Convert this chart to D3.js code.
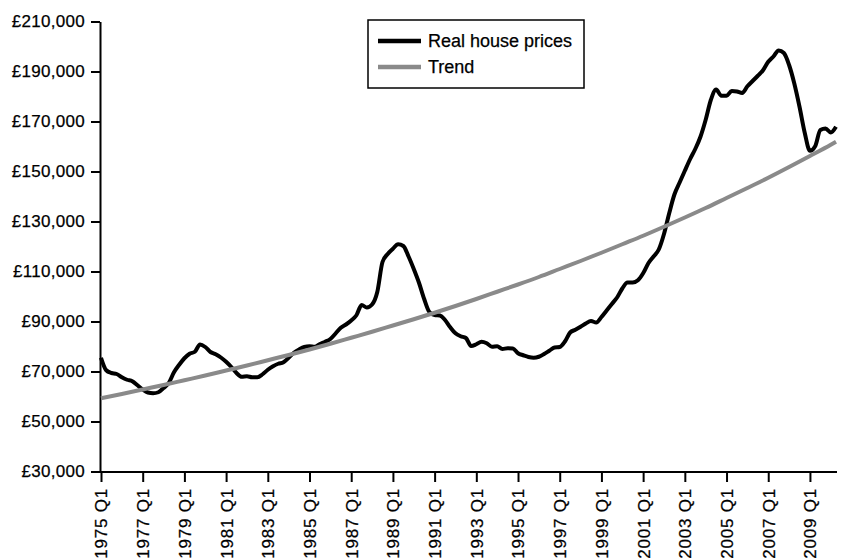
<!DOCTYPE html>
<html>
<head>
<meta charset="utf-8">
<script src="https://cdn.jsdelivr.net/npm/d3@7"></script>
<style>
  body { margin: 0; background: #fff; }
  svg text { font-family: "Liberation Sans", Arial, sans-serif; fill: #000; stroke: #000; stroke-width: 0.25px; }
</style>
</head>
<body>
<svg id="chart" width="848" height="560"></svg>
<script>
// quarters 1975 Q1 .. 2010 Q2
var quarters = [];
for (var yr = 1975; yr <= 2010; yr++)
    for (var q = 1; q <= 4; q++)
        if (!(yr === 2010 && q > 2)) quarters.push(yr + " Q" + q);

// real house prices, one value per quarter
var prices = [
    75500, 70500, 69400, 69000, 67700, 66700, 66100, 64500, 62800, 61600,
    61300, 61700, 63400, 65400, 69700, 72700, 75300, 77100, 77900, 80800,
    79800, 77800, 76900, 75600, 73900, 71800, 69400, 67900, 68100, 67700,
    67700, 68900, 70700, 72100, 73100, 73700, 75500, 77500, 78800, 79800,
    80100, 79900, 81000, 81900, 83000, 85200, 87500, 88800, 90400, 92500,
    96600, 95600, 96800, 101800, 113800, 117000, 119100, 120900, 120200, 116000,
    111000, 105500, 99000, 93800, 92600, 92400, 90600, 87700, 85300, 84100,
    83400, 80200, 80900, 81900, 81300, 79900, 80100, 79000, 79300, 79200,
    77300, 76500, 75800, 75500, 75900, 77000, 78300, 79600, 79800, 82000,
    85600, 86700, 87900, 89200, 90200, 89600, 91800, 94400, 97000, 99600,
    103200, 105600, 105600, 106500, 109300, 113300, 116000, 118800, 125000, 133300,
    140800, 145600, 150300, 154900, 159000, 163900, 170700, 178700, 182800, 180300,
    180300, 182200, 182000, 181400, 184100, 186200, 188300, 190500, 193900, 196000,
    198400, 197400, 192600, 185200, 175900, 165500, 158300, 160100, 166600, 167200,
    165600, 167900
];

// trend, read at each Q1 plus the last quarter
var trendQuarters = [
    "1975 Q1", "1976 Q1", "1977 Q1", "1978 Q1", "1979 Q1", "1980 Q1", "1981 Q1", "1982 Q1", "1983 Q1",
    "1984 Q1", "1985 Q1", "1986 Q1", "1987 Q1", "1988 Q1", "1989 Q1", "1990 Q1", "1991 Q1", "1992 Q1",
    "1993 Q1", "1994 Q1", "1995 Q1", "1996 Q1", "1997 Q1", "1998 Q1", "1999 Q1", "2000 Q1", "2001 Q1",
    "2002 Q1", "2003 Q1", "2004 Q1", "2005 Q1", "2006 Q1", "2007 Q1", "2008 Q1", "2009 Q1", "2010 Q1",
    "2010 Q2"
];
var trend = [
    59300, 61000, 62800, 64600, 66500, 68400, 70400, 72400, 74500,
    76600, 78800, 81100, 83500, 85900, 88400, 90900, 93500, 96200,
    99000, 101900, 104800, 107800, 111000, 114200, 117500, 120900, 124300,
    127900, 131600, 135400, 139400, 143400, 147500, 151800, 156200, 160700,
    161900
];

var tickLabels = ["1975 Q1", "1977 Q1", "1979 Q1", "1981 Q1", "1983 Q1", "1985 Q1",
    "1987 Q1", "1989 Q1", "1991 Q1", "1993 Q1", "1995 Q1", "1997 Q1", "1999 Q1",
    "2001 Q1", "2003 Q1", "2005 Q1", "2007 Q1", "2009 Q1"];
var yTicks = [30000, 50000, 70000, 90000, 110000, 130000, 150000, 170000, 190000, 210000];

var legendItems = ["Real house prices", "Trend"];
var legendColors = ["#000", "#8a8a8a"];

var svg = d3.select("#chart");

var x = d3.scalePoint()
    .domain(quarters)
    .range([101, 836]);

var y = d3.scaleLinear()
    .domain([30000, 210000])
    .range([471.5, 21.5]);

var fmt = d3.format(",");

// y axis
var yAxis = svg.append("g")
    .attr("transform", "translate(100,0)")
    .call(d3.axisLeft(y).tickValues(yTicks).tickSize(9).tickSizeOuter(0).tickPadding(6)
        .tickFormat(d => "£" + fmt(d)));
yAxis.selectAll("text").style("font-size", "17px").style("letter-spacing", "0.3px");

// x axis
var xAxis = svg.append("g")
    .attr("transform", "translate(0,472)")
    .call(d3.axisBottom(x).tickValues(tickLabels).tickSize(10).tickSizeOuter(0));
xAxis.select(".domain").attr("d", "M100,0H837");
xAxis.selectAll("text")
    .style("font-size", "17px")
    .style("letter-spacing", "0.8px")
    .attr("transform", "rotate(-90)")
    .attr("text-anchor", "end")
    .attr("x", -16)
    .attr("y", 0)
    .attr("dy", "0.35em");

svg.selectAll(".domain, .tick line")
    .attr("stroke", "#000")
    .attr("stroke-width", 2);

// lines
var line = d3.line()
    .x(d => x(d[0]))
    .y(d => y(d[1]))
    .curve(d3.curveMonotoneX);

svg.append("path")
    .datum(d3.zip(quarters, prices))
    .attr("fill", "none")
    .attr("stroke", legendColors[0])
    .attr("stroke-width", 4)
    .attr("stroke-linejoin", "round")
    .attr("d", line);

svg.append("path")
    .datum(d3.zip(trendQuarters, trend))
    .attr("fill", "none")
    .attr("stroke", legendColors[1])
    .attr("stroke-width", 4)
    .attr("d", line);

// legend
var legend = svg.append("g");
legend.append("rect")
    .attr("x", 368).attr("y", 20)
    .attr("width", 216).attr("height", 68)
    .attr("fill", "#fff")
    .attr("stroke", "#000")
    .attr("stroke-width", 1.5);

legendItems.forEach(function(name, i) {
    legend.append("line")
        .attr("x1", 378).attr("x2", 421)
        .attr("y1", 41 + i * 26).attr("y2", 41 + i * 26)
        .attr("stroke", legendColors[i])
        .attr("stroke-width", 4.5);
    legend.append("text")
        .attr("x", 428)
        .attr("y", 47 + i * 26)
        .style("font-size", "18px")
        .text(name);
});
</script>
</body>
</html>
